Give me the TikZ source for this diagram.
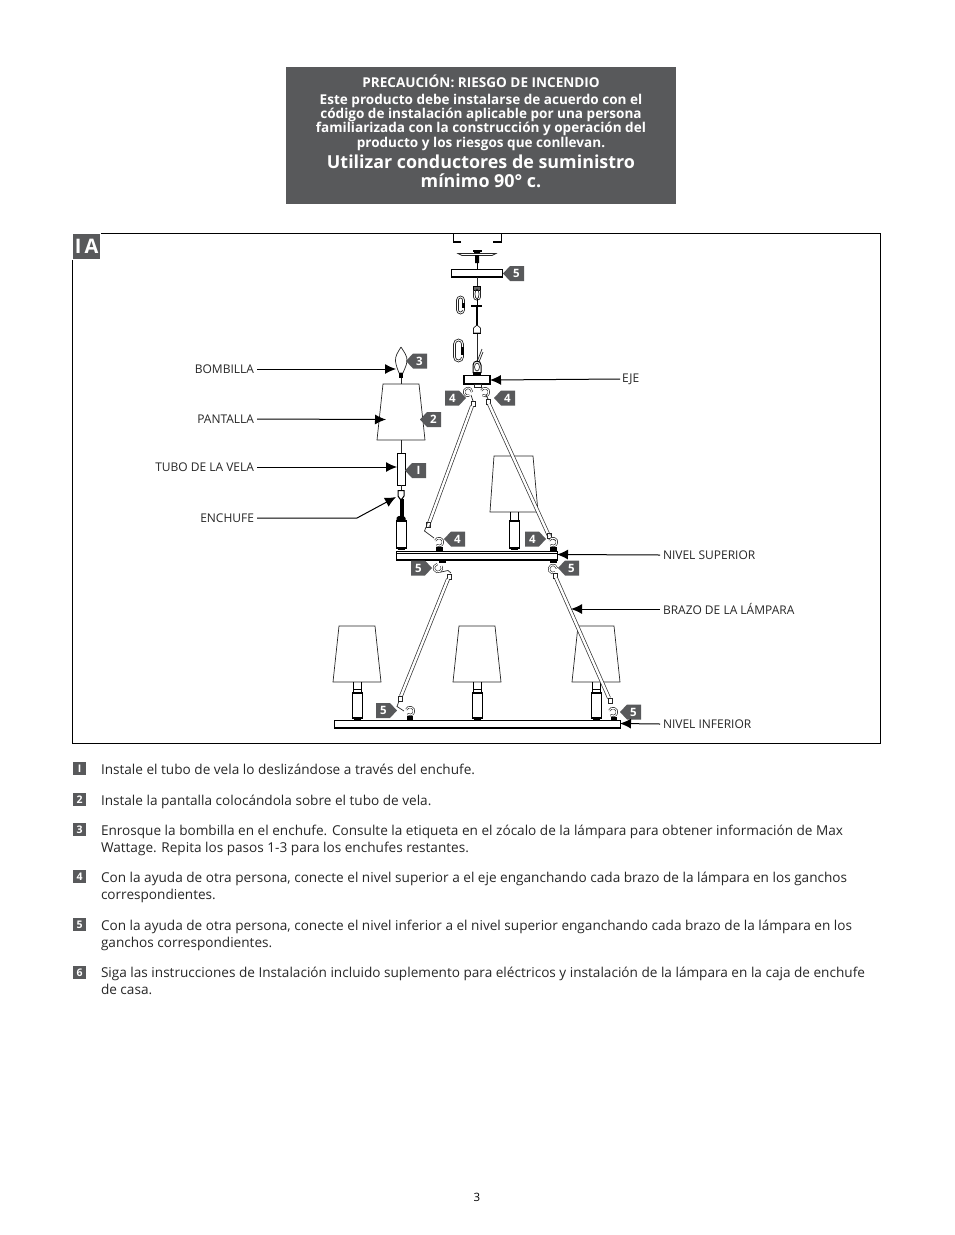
\documentclass[tikz,border=0pt]{standalone}
\usepackage{fontspec}
\setmainfont{Open Sans}
\usetikzlibrary{arrows.meta}
\definecolor{tagc}{HTML}{58595B}
\newcommand{\linebody}[3]{\node[stepline] (#1) at (101,#2) {#3};}
\newcommand{\stepbadge}[3]{\node[stepbadge] (#1) at (79.5,#2) {#3};}
\newcommand{\tagL}[4]{\fill[tagc] (#2,#3) -- (#2+7,#3-7.5) -- (#2+21,#3-7.5) -- (#2+21,#3+7.5) -- (#2+7,#3+7.5) -- cycle;
  \node[tagtxt] (#1) at (#2+13.5,#3) {#4};}
\newcommand{\tagR}[4]{\fill[tagc] (#2,#3) -- (#2-7,#3-7.5) -- (#2-21,#3-7.5) -- (#2-21,#3+7.5) -- (#2-7,#3+7.5) -- cycle;
  \node[tagtxt] (#1) at (#2-13.5,#3) {#4};}
\newcommand{\lampbody}[3]{%
  \draw[thick2,fill=white] (#1-5,#2) rectangle (#1+5,#3);
  \fill (#1-5,#2) rectangle (#1+5,#2+2);
  \fill (#1-5,#3-1.5) rectangle (#1+5,#3);
  \fill (#1-3.5,#3) rectangle (#1+3.5,#3+2);
}
\newcommand{\lamp}[7]{%
  \draw[thin1] (#1-#4,#2) -- (#1+#4,#2) -- (#1+#5,#3) -- (#1-#5,#3) -- cycle;
  \draw[thick2] (#1-4,#3) -- (#1-4,#6) (#1+4,#3) -- (#1+4,#6);
  \draw[thick2] (#1-4,#6-3) -- (#1+4,#6-3);
  \lampbody{#1}{#6}{#7}
}
\newcommand{\arm}[4]{%
  \draw[armout] (#1,#2) -- (#3,#4);
  \draw[arminn] (#1,#2) -- (#3,#4);
}
\newcommand{\hookc}[3]{%
  \draw[hkout] (#1,#2) ++(#3:4) arc[start angle=#3,delta angle=290,radius=4];
  \draw[hkin] (#1,#2) ++(#3:4) arc[start angle=#3,delta angle=290,radius=4];
}
\newcommand{\looselink}[5]{%
  \draw[thin1] (#2,#3+7) -- (#2,#3+4) arc[start angle=0,end angle=-180,radius=#5] -- (#1,#4-4) arc[start angle=180,end angle=0,radius=#5] -- (#2,#4-6);
  \draw[thin1] (#2-2,#3+7) -- (#2-2,#3+4) arc[start angle=0,end angle=-180,radius=#5-2] -- (#1+2,#4-4) arc[start angle=180,end angle=0,radius=#5-2];
  \fill (#2-2.5,#3+7) rectangle (#2+.5,#4-6);
}
\tikzset{
  x=1pt,y=-1pt,
  every node/.style={outer sep=0},
  stepline/.style={anchor=base west,inner sep=0,font=\fontsize{13.6}{15}\selectfont,text=black!85},
  stepbadge/.style={fill=tagc,text=white,minimum width=13pt,minimum height=13pt,inner sep=0,font=\fontsize{10.5}{10}\bfseries\selectfont},
  tagtxt/.style={text=white,inner sep=0,font=\fontsize{11.5}{11}\bfseries\selectfont},
  lab/.style={inner sep=0,font=\fontsize{12}{13}\selectfont,text=black!85},
  warn/.style={text=white,inner sep=0,anchor=base,font=\fontsize{13.55}{14}\bfseries\selectfont},
  warnbig/.style={text=white,inner sep=0,anchor=base,font=\fontsize{17.9}{20}\bfseries\selectfont},
  thin1/.style={line width=.7pt,draw=black!85},
  thick2/.style={line width=1pt,draw=black},
  armout/.style={line width=3.8pt,draw=black!80},
  arminn/.style={line width=2.4pt,draw=white},
  hkout/.style={line width=2.2pt,draw=black!85},
  hkin/.style={line width=1pt,draw=white},
  lead/.style={line width=1pt,draw=black,-{Latex[length=11pt,width=10pt]}},
}
\begin{document}
\begin{tikzpicture}
\useasboundingbox (0,0) rectangle (954,1235);
\node[fill=tagc,minimum width=390pt,minimum height=137pt,inner sep=0,anchor=north west] (warnbox) at (286,67) {};
\node[warn] (w1) at (481,87) {PRECAUCIÓN: RIESGO DE INCENDIO};
\node[warn] (w2) at (481,104) {Este producto debe instalarse de acuerdo con el};
\node[warn] (w3) at (481,118) {código de instalación aplicable por una persona};
\node[warn] (w4) at (481,132) {familiarizada con la construcción y operación del};
\node[warn] (w5) at (481,147) {producto y los riesgos que conllevan.};
\node[warnbig] (w6) at (481,168) {Utilizar conductores de suministro};
\node[warnbig] (w7) at (481,187.5) {mínimo 90° c.};
\node[draw=black,line width=.9pt,minimum width=808pt,minimum height=510pt,inner sep=0,anchor=north west] (frame) at (72.6,233.6) {};
\node[fill=tagc,draw=white,line width=1pt,minimum width=28.5pt,minimum height=26.5pt,inner sep=0,anchor=north west,text=white,font=\fontsize{20}{20}\bfseries\selectfont] (badge) at (72.4,233.3) {I\,A};
\draw[line width=1.2pt] (461,242) -- (453.5,242) -- (453.5,234) (493,242) -- (501.5,242) -- (501.5,234);
\draw[thin1] (458,253.5) -- (496,253.5) -- (492,255.5) -- (462,255.5) -- cycle;
\fill (474,250) rectangle (480,253) (475,255) rectangle (479,263);
\fill (472.5,250) rectangle (481.5,252);
\draw[line width=.9pt] (477,263) -- (477,270);
\node[draw=black,line width=1.2pt,minimum width=51pt,minimum height=7.5pt,inner sep=0,anchor=north west] (plate) at (451.5,269.5) {};
\draw[thin1] (477,277) -- (477,286);
\draw[line width=.9pt,fill=black!60] (473.5,286) rectangle (480.5,290);
\draw[thin1,rounded corners=3] (473.5,290) -- (473.5,300) -- (480.5,300) -- (480.5,290);
\draw[thin1] (477,294) ellipse[x radius=2,y radius=5];
\draw[line width=2pt] (471,306) -- (482,306);
\draw[line width=1pt] (477,299) -- (477,306);
\draw[line width=1.6pt] (477,306) -- (477,326);
\draw[thin1] (473.5,333) -- (473.5,328) -- (477,325) -- (480.5,328) -- (480.5,333) -- cycle;
\draw[line width=1pt] (473,333.5) -- (481,333.5);
\draw[thin1] (477,334) -- (477,362);
\draw[thin1] (477,362) -- (482,349);
\draw[thin1] (479,362) -- (483,352);
\draw[line width=1pt] (473,373) -- (473,365) arc[start angle=180,end angle=360,radius=4] -- (481,373);
\draw[thin1] (477,367) ellipse[x radius=2.5,y radius=4];
\looselink{456.5}{464.5}{296}{314}{4}
\looselink{453.5}{463.5}{340}{361}{5}
\fill (473,372) rectangle (481,375);
\node[draw=black,line width=1.4pt,fill=white,minimum width=26pt,minimum height=8.5pt,inner sep=0,anchor=north west] (hub) at (464,375.5) {};
\draw[thin1] (474,384) rectangle (481,387);
\hookc{468}{392}{70}
\hookc{485}{392}{200}
\draw[thin1] (471,395) -- (473,401);
\draw[thin1] (486,395) -- (488,399);
\draw[thin1] (471.5,401) rectangle (475.5,406);
\draw[thin1] (486,399.5) rectangle (490,404);
\draw[thin1] (401,347) .. controls (398,352) and (395,356) .. (395.5,361) .. controls (396,366) and (398,370) .. (399,373) -- (403,373) .. controls (404,370) and (406.5,366) .. (407,361) .. controls (407.5,356) and (404,352) .. (401,347);
\fill (399,373) rectangle (403,378);
\draw[thin1] (401,378) -- (401,384);
\draw[thin1,fill=white] (383,384) -- (419,384) -- (425,440) -- (377,440) -- cycle;
\draw[thin1] (401,440) -- (401,453);
\node[draw=black,line width=.9pt,minimum width=8.5pt,minimum height=32pt,inner sep=0,anchor=north west] (tube) at (397,453) {};
\draw[thin1] (401,485) -- (401,490);
\draw[line width=1pt] (398,490.5) -- (404,490.5) -- (404,496) -- (402,499) -- (400,499) -- (398,496) -- cycle;
\fill (399.5,499) rectangle (403.5,518);
\fill (396.5,518) .. controls (397,515) and (405,515) .. (405.5,518) -- (405.5,521) -- (396.5,521) -- cycle;
\lampbody{401}{520}{548}
\draw[thin1] (494,456) -- (533,456) -- (538,512) -- (490,512) -- cycle;
\draw[thick2] (510.5,512) -- (510.5,520) (518.5,512) -- (518.5,520);
\lampbody{514.5}{520}{548}
\node[draw=black,line width=1pt,fill=white,minimum width=161pt,minimum height=9pt,inner sep=0,anchor=north west] (upperbar) at (396,551) {};
\draw[line width=.5pt] (396,553.5) -- (557,553.5);
\draw[line width=1.5pt] (396,559.3) -- (557,559.3);
\arm{472}{406}{428}{526}
\arm{489}{404}{549}{536}
\draw[thin1] (426,522.5) rectangle (430,527);
\draw[thin1] (426,527) -- (424.5,531) -- (434,538);
\draw[thin1] (547,533) rectangle (551,538);
\draw[thin1] (551,538) -- (557,541);
\hookc{439}{542}{200}
\fill (436,547) rectangle (443,550.5);
\hookc{553}{542}{200}
\fill (550,547) rectangle (557,550.5);
\fill (439,560) rectangle (446,563);
\hookc{438}{568}{-30}
\draw[thin1] (441,572) -- (448,570.5) -- (451,573);
\draw[thin1] (447,574) rectangle (451,579);
\fill (550,560) rectangle (557,563);
\hookc{553}{569}{60}
\draw[thin1] (553,573) rectangle (557,578);
\arm{448}{579}{401}{696}
\lamp{357}{626}{682}{18}{24}{692}{718}
\lamp{477}{626}{682}{18}{24}{692}{718}
\draw[thin1] (578,626) -- (614,626) -- (620,682) -- (572,682) -- cycle;
\draw[thick2] (592,682) -- (592,692) (600,682) -- (600,692) (592,689) -- (600,689);
\lampbody{596}{692}{718}
\arm{556}{578}{609}{698}
\node[draw=black,line width=.9pt,fill=white,minimum width=286pt,minimum height=8pt,inner sep=0,anchor=north west] (lowerbar) at (334,720) {};
\draw[line width=1.6pt] (334,728) -- (620,728);
\draw[thin1] (398.5,696) rectangle (402.5,701);
\draw[thin1] (399,701) -- (397,706.5) -- (404,711);
\hookc{410}{711}{200}
\fill (407,716) rectangle (413,720);
\draw[thin1] (608,698) rectangle (612,703);
\hookc{613}{712}{200}
\fill (611,716.5) rectangle (617,720);
\tagL{t5a}{503}{273.5}{5}
\tagL{t3}{406}{361}{3}
\tagL{t2}{420}{419.5}{2}
\tagL{t1}{405}{470.5}{I}
\tagR{t4a}{466}{398}{4}
\tagL{t4b}{494}{398}{4}
\tagL{t4c}{444}{539}{4}
\tagR{t4d}{546}{539}{4}
\tagR{t5b}{432}{568}{5}
\tagL{t5c}{558}{568}{5}
\tagR{t5d}{397}{710.5}{5}
\tagL{t5e}{620}{712}{5}
\node[lab,anchor=east] (bombilla) at (254,369) {BOMBILLA};
\node[lab,anchor=east] (pantalla) at (254,419) {PANTALLA};
\node[lab,anchor=east] (tubo) at (254,467) {TUBO DE LA VELA};
\node[lab,anchor=east] (enchufe) at (254,518) {ENCHUFE};
\node[lab,anchor=west] (eje) at (622,379) {EJE};
\node[lab,anchor=west] (nivsup) at (663,555) {NIVEL SUPERIOR};
\node[lab,anchor=west] (brazo) at (663,609) {BRAZO DE LA LÁMPARA};
\node[lab,anchor=west] (nivinf) at (663,724) {NIVEL INFERIOR};
\coordinate (pb) at (396,369);
\coordinate (pp) at (386,419.5);
\coordinate (pt) at (397,467);
\coordinate (pe) at (396,497);
\coordinate (pj) at (490,380);
\coordinate (pn) at (557,554.5);
\coordinate (pa) at (571,609);
\coordinate (pi) at (620,723.5);
\draw[lead] (bombilla.east) ++(3,0) -- (pb);
\draw[lead] (pantalla.east) ++(3,0) -- (pp);
\draw[lead] (tubo.east) ++(3,0) -- (pt);
\draw[lead] (enchufe.east) ++(3,0) -- (357,518) -- (pe);
\draw[lead] (eje.west) ++(-2,0) -- (pj);
\draw[lead] (nivsup.west) ++(-3,0) -- (pn);
\draw[lead] (brazo.west) ++(-3,0) -- (pa);
\draw[lead] (nivinf.west) ++(-3,0) -- (pi);
\stepbadge{s1}{768.5}{I}
\stepbadge{s2}{799.5}{2}
\stepbadge{s3}{829.5}{3}
\stepbadge{s4}{876.5}{4}
\stepbadge{s5}{924.5}{5}
\stepbadge{s6}{972.5}{6}
\linebody{l1}{774}{Instale el tubo de vela lo deslizándose a través del enchufe.}
\linebody{l2}{805}{Instale la pantalla colocándola sobre el tubo de vela.}
\linebody{l3}{835}{Enrosque la bombilla en el enchufe. Consulte la etiqueta en el zócalo de la lámpara para obtener información de Max}
\linebody{l3b}{852}{Wattage. Repita los pasos 1-3 para los enchufes restantes.}
\linebody{l4}{882}{Con la ayuda de otra persona, conecte el nivel superior a el eje enganchando cada brazo de la lámpara en los ganchos}
\linebody{l4b}{899}{correspondientes.}
\linebody{l5}{930}{Con la ayuda de otra persona, conecte el nivel inferior a el nivel superior enganchando cada brazo de la lámpara en los}
\linebody{l5b}{947}{ganchos correspondientes.}
\linebody{l6}{977}{Siga las instrucciones de Instalación incluido suplemento para eléctricos y instalación de la lámpara en la caja de enchufe}
\linebody{l6b}{994}{de casa.}
\node[inner sep=0,font=\fontsize{11.5}{13}\selectfont] (page) at (477,1197) {3};
\end{tikzpicture}
\end{document}
